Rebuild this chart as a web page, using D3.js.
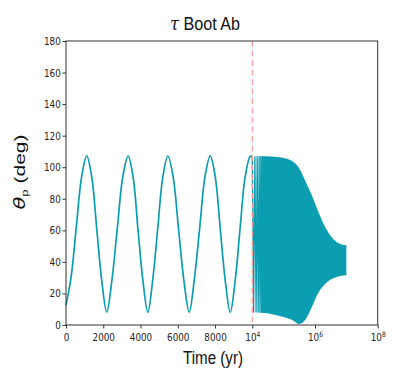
<!DOCTYPE html>
<html>
<head>
<meta charset="utf-8">
<script src="https://cdn.jsdelivr.net/npm/d3@7"></script>
<style>
  body { margin: 0; background: #fff; }
  svg { display: block; }
</style>
</head>
<body>
<svg id="chart"></svg>
<script>
// theta_p (deg), linear time part 0 .. 1e4 yr
const linTime = [0, 280, 560, 840, 1113, 1380, 1650, 1920, 2188, 2470, 2760, 3050, 3333,
  3600, 3860, 4130, 4392, 4660, 4930, 5200, 5468, 5750, 6040, 6330, 6613, 6890, 7180, 7460,
  7742, 8010, 8280, 8550, 8817, 9090, 9350, 9620, 9892, 10000]
const linTheta = [12.5, 31, 63, 94, 107.2, 94, 61, 28, 8.2, 29, 62, 94, 107,
  94, 61, 28, 8, 29, 62, 94, 107.1, 94, 61, 28, 8.2, 29, 62, 94,
  107.2, 94, 61, 28, 8, 29, 62, 94, 107, 106.5]

// first few oscillations after 1e4 yr, still separable on the log axis
const logTime = [10000, 11000, 12100, 13200, 14300, 15400, 16500, 17600, 18700, 19800, 20900, 22000]
const logTheta = [106.5, 8, 107, 8, 107, 7.8, 107, 7.8, 107, 7.8, 107, 7.8]

// envelope of the dense oscillation band
const envTime = [2e4, 3e4, 5e4, 1e5, 2e5, 3e5, 5e5, 8e5, 1.2e6, 2e6, 3e6, 5e6, 1e7]
const envHigh = [107, 107, 106.6, 105.8, 103.5, 100, 91, 82, 73, 63, 57, 52.5, 50.5]
const envLow = [7.8, 7.4, 6.5, 5, 2.8, 0.6, 3.5, 11.5, 19.5, 25.5, 28.5, 30.5, 31.5]

const linTicks = [0, 2000, 4000, 6000, 8000]
const logTicks = [1e4, 1e6, 1e8]
const yTicks = [0, 20, 40, 60, 80, 100, 120, 140, 160, 180]

const width = 415
const height = 382
const padLeft = 66, padRight = 377.7, padTop = 41, padBottom = 325
const split = 252.3
const teal = '#0b9db0'
const squish = 0.8

const svg = d3.select('#chart').attr('width', width).attr('height', height)

const xLin = d3.scaleLinear().domain([0, 1e4]).range([padLeft, split])
const xLog = d3.scaleLog().domain([1e4, 1e8]).range([split, padRight])
const y = d3.scaleLinear().domain([0, 180]).range([padBottom, padTop])

// main line, linear part
let linData = linTime.map((t, i) => ({ t: t, v: linTheta[i] }))
svg.append('path')
   .datum(linData)
   .attr('fill', 'none')
   .attr('stroke', teal)
   .attr('stroke-width', 1.7)
   .attr('d', d3.line().x(d => xLin(d.t)).y(d => y(d.v)).curve(d3.curveCatmullRom.alpha(0.5)))

// log part: separate swings then the filled band
let logData = logTime.map((t, i) => ({ t: t, v: logTheta[i] }))
svg.append('path')
   .datum(logData)
   .attr('fill', 'none')
   .attr('stroke', teal)
   .attr('stroke-width', 1.3)
   .attr('d', d3.line().x(d => xLog(d.t)).y(d => y(d.v)))

let envData = envTime.map((t, i) => ({ t: t, hi: envHigh[i], lo: envLow[i] }))
svg.append('path')
   .datum(envData)
   .attr('fill', teal)
   .attr('d', d3.area().x(d => xLog(d.t)).y0(d => y(d.lo)).y1(d => y(d.hi)).curve(d3.curveMonotoneX))

// dashed marker at 1e4
svg.append('line')
   .attr('x1', xLog(1e4)).attr('x2', xLog(1e4))
   .attr('y1', padTop).attr('y2', padBottom)
   .attr('stroke', '#ff9c9c')
   .attr('stroke-width', 1.2)
   .attr('stroke-dasharray', '6,3.5')

// frame
svg.append('rect')
   .attr('x', padLeft).attr('y', padTop)
   .attr('width', padRight - padLeft).attr('height', padBottom - padTop)
   .attr('fill', 'none')
   .attr('stroke', '#333')
   .attr('stroke-width', 1)

let styleAxis = (g) => {
    g.select('.domain').remove()
    g.selectAll('.tick line').attr('stroke', '#333')
    g.selectAll('.tick text')
     .attr('fill', '#222')
     .attr('font-family', 'DejaVu Sans')
     .attr('font-size', 11)
     .attr('transform', 'scale(' + squish + ',1)')
}

svg.append('g')
   .attr('transform', 'translate(0,' + padBottom + ')')
   .call(d3.axisBottom(xLin).tickValues(linTicks).tickSize(3.5).tickPadding(4.5).tickFormat(d3.format('d')))
   .call(styleAxis)

let logAxis = svg.append('g')
   .attr('transform', 'translate(0,' + padBottom + ')')
   .call(d3.axisBottom(xLog).tickValues(logTicks).tickSize(3.5).tickPadding(4.5).tickFormat(() => '10'))
   .call(styleAxis)
logAxis.selectAll('.tick text')
   .append('tspan')
   .attr('dy', '-0.45em')
   .attr('font-size', 7.5)
   .text(d => Math.round(Math.log10(d)))

svg.append('g')
   .attr('transform', 'translate(' + padLeft + ',0)')
   .call(d3.axisLeft(y).tickValues(yTicks).tickSize(3.5).tickPadding(3))
   .call(styleAxis)

// title and labels
svg.append('text')
   .attr('x', 205).attr('y', 30)
   .attr('text-anchor', 'middle')
   .attr('font-family', 'Liberation Sans')
   .attr('font-size', 18)
   .attr('fill', '#111')
   .attr('textLength', 70)
   .attr('lengthAdjust', 'spacingAndGlyphs')
   .html('<tspan font-style="italic" font-family="DejaVu Serif">τ</tspan> Boot Ab')

svg.append('text')
   .attr('x', 213).attr('y', 364)
   .attr('text-anchor', 'middle')
   .attr('font-family', 'Liberation Sans')
   .attr('font-size', 18)
   .attr('fill', '#111')
   .attr('textLength', 60)
   .attr('lengthAdjust', 'spacingAndGlyphs')
   .text('Time (yr)')

svg.append('text')
   .attr('transform', 'translate(25,172) scale(' + squish + ',1) rotate(-90)')
   .attr('text-anchor', 'middle')
   .attr('font-family', 'Liberation Sans')
   .attr('font-size', 19)
   .attr('fill', '#111')
   .attr('textLength', 75)
   .attr('lengthAdjust', 'spacingAndGlyphs')
   .html('<tspan font-family="DejaVu Sans" font-style="italic">θ</tspan><tspan font-size="12" dy="4">p</tspan><tspan dy="-4"> (deg)</tspan>')
</script>
</body>
</html>
